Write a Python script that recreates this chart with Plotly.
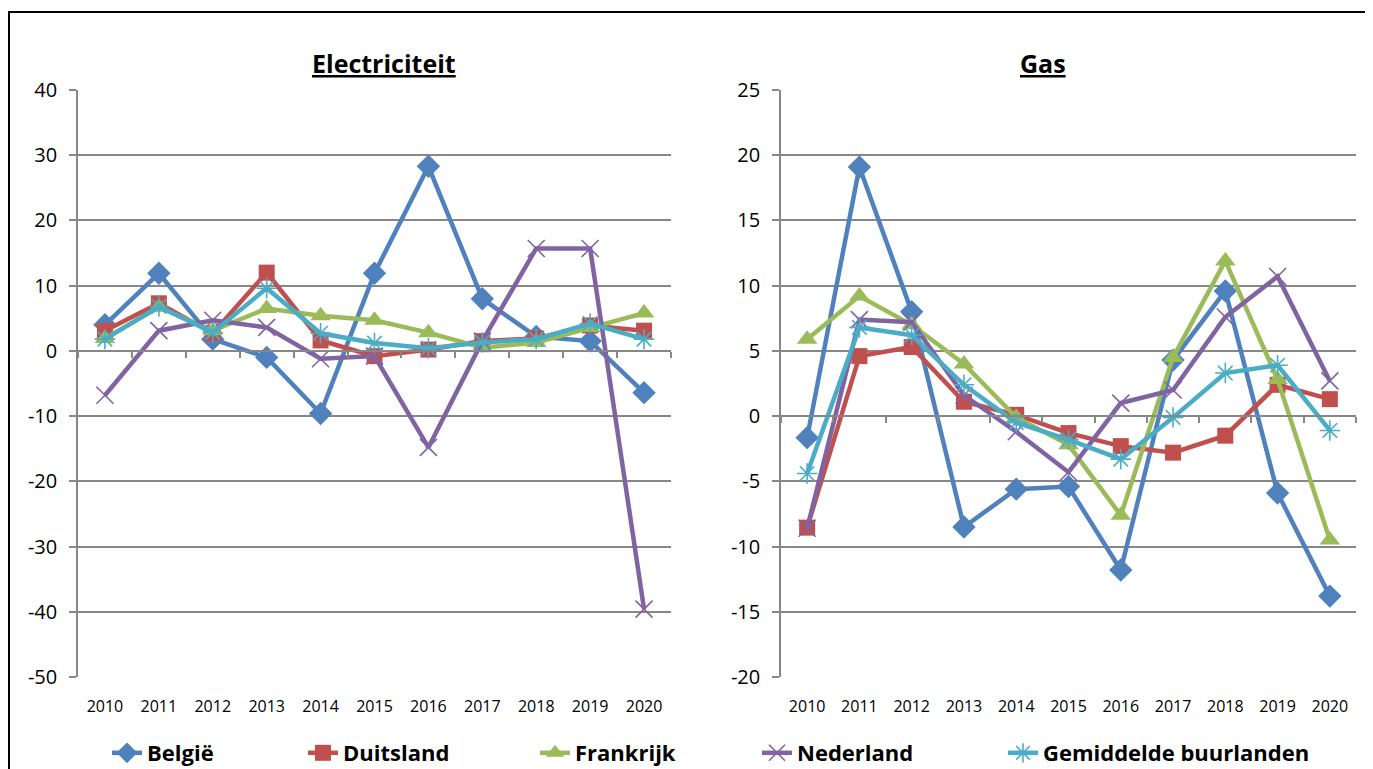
import plotly.graph_objects as go

years = [2010, 2011, 2012, 2013, 2014, 2015, 2016, 2017, 2018, 2019, 2020]
series_names = ["België", "Duitsland", "Frankrijk", "Nederland", "Gemiddelde buurlanden"]

elec_belgie = [4.0, 11.9, 1.8, -1.0, -9.6, 11.9, 28.3, 8.0, 2.2, 1.5, -6.4]
elec_duitsland = [3.1, 7.3, 2.7, 12.0, 1.6, -0.8, 0.2, 1.5, 1.9, 3.9, 3.1]
elec_frankrijk = [1.9, 6.7, 3.1, 6.5, 5.4, 4.7, 2.8, 0.5, 1.3, 3.6, 5.8]
elec_nederland = [-6.8, 3.1, 4.7, 3.6, -1.2, -0.8, -14.8, 1.5, 15.7, 15.7, -39.6]
elec_gemiddeld = [1.8, 6.8, 2.8, 9.6, 2.7, 1.2, 0.4, 1.3, 1.8, 4.2, 1.8]

gas_belgie = [-1.65, 19.1, 8.0, -8.5, -5.6, -5.4, -11.8, 4.3, 9.6, -5.9, -13.8]
gas_duitsland = [-8.55, 4.6, 5.3, 1.1, 0.1, -1.3, -2.3, -2.8, -1.5, 2.4, 1.3]
gas_frankrijk = [5.9, 9.2, 7.0, 4.0, -0.1, -2.2, -7.6, 4.5, 11.9, 2.8, -9.5]
gas_nederland = [-8.6, 7.4, 7.2, 1.6, -1.2, -4.3, 1.0, 2.0, 7.6, 10.7, 2.7]
gas_gemiddeld = [-4.4, 6.8, 6.2, 2.4, -0.5, -1.8, -3.3, -0.1, 3.3, 3.9, -1.1]

elec_ticks = [40, 30, 20, 10, 0, -10, -20, -30, -40, -50]
gas_ticks = [25, 20, 15, 10, 5, 0, -5, -10, -15, -20]

colors = ["#4F81BD", "#C0504D", "#9BBB59", "#8064A2", "#4BACC6"]
symbols = ["diamond", "square", "triangle-up", "x-thin-open", "asterisk-open"]
msizes = [18, 16, 18, 17, 17]

OFF = 8  # default body margin of the html page
W, H = 1373 - OFF, 769 - OFF
FONT = "Open Sans"
GRID = "#878787"


def px_x(p):
    return (p - OFF) / W


def px_y(p):
    return 1 - (p - OFF) / H


ydom = [px_y(677), px_y(90)]
x1dom = [px_x(78), px_x(671)]
x2dom = [px_x(781), px_x(1356)]

fig = go.Figure()

elec = [elec_belgie, elec_duitsland, elec_frankrijk, elec_nederland, elec_gemiddeld]
gas = [gas_belgie, gas_duitsland, gas_frankrijk, gas_nederland, gas_gemiddeld]

legend_ids = ["legend", "legend2", "legend3", "legend4", "legend5"]

for i, name in enumerate(series_names):
    mk = dict(symbol=symbols[i], size=msizes[i], color=colors[i],
              line=dict(color=colors[i], width=1.6 if i >= 3 else 0))
    fig.add_trace(go.Scatter(x=years, y=elec[i], name=name, mode="lines+markers",
                             line=dict(color=colors[i], width=4.5), marker=mk,
                             xaxis="x", yaxis="y", legendgroup=name,
                             legend=legend_ids[i], showlegend=True))
for i, name in enumerate(series_names):
    mk = dict(symbol=symbols[i], size=msizes[i], color=colors[i],
              line=dict(color=colors[i], width=1.6 if i >= 3 else 0))
    fig.add_trace(go.Scatter(x=years, y=gas[i], name=name, mode="lines+markers",
                             line=dict(color=colors[i], width=4.5), marker=mk,
                             xaxis="x2", yaxis="y2", legendgroup=name,
                             showlegend=False))

xr = [years[0] - 0.5, years[-1] + 0.5]
bounds = [y - 0.5 for y in years] + [years[-1] + 0.5]

xcommon = dict(range=xr, tickvals=years, ticktext=[str(y) for y in years],
               showgrid=False, zeroline=False, showline=False, ticks="",
               tickfont=dict(family=FONT, size=16, color="#000"),
               ticklabelstandoff=18)
ycommon = dict(showgrid=True, gridcolor=GRID, gridwidth=1.6, zeroline=False,
               showline=True, linecolor=GRID, linewidth=1.6, ticks="outside",
               ticklen=7, tickcolor=GRID, tickwidth=1.6,
               tickfont=dict(family=FONT, size=20, color="#000"),
               ticklabelstandoff=8)


def zero_pos(dom, rng):
    return dom[0] + (0 - rng[0]) / (rng[1] - rng[0]) * (dom[1] - dom[0])


erng = [-50, 40]
grng = [-20, 25]

fig.update_layout(
    width=W, height=H,
    margin=dict(l=0, r=0, t=0, b=0, autoexpand=False),
    paper_bgcolor="white", plot_bgcolor="white",
    xaxis=dict(domain=x1dom, anchor="y", **xcommon),
    yaxis=dict(domain=ydom, anchor="x", range=erng, tickvals=elec_ticks,
               ticktext=[str(t) for t in elec_ticks], **ycommon),
    xaxis2=dict(domain=x2dom, anchor="y2", **xcommon),
    yaxis2=dict(domain=ydom, anchor="x2", range=grng, tickvals=gas_ticks,
                ticktext=[str(t) for t in gas_ticks], **ycommon),
    xaxis3=dict(domain=x1dom, overlaying="x", anchor="free",
                position=zero_pos(ydom, erng), range=xr, tickvals=bounds,
                showticklabels=False, ticks="outside", ticklen=6, tickwidth=1.6,
                tickcolor=GRID, showline=True, linecolor=GRID, linewidth=1.6,
                showgrid=False, zeroline=False),
    xaxis4=dict(domain=x2dom, overlaying="x2", anchor="free",
                position=zero_pos(ydom, grng), range=xr, tickvals=bounds,
                showticklabels=False, ticks="outside", ticklen=6, tickwidth=1.6,
                tickcolor=GRID, showline=True, linecolor=GRID, linewidth=1.6,
                showgrid=False, zeroline=False),
    showlegend=True,
)

for ax in ["x3", "x4"]:
    fig.add_trace(go.Scatter(x=[None], y=[None], xaxis=ax, yaxis="y" if ax == "x3" else "y2",
                             showlegend=False, hoverinfo="skip"))

text_starts = [147, 343, 575, 797, 1043]
for i, lid in enumerate(legend_ids):
    fig.update_layout({lid: dict(x=px_x(text_starts[i] - 40), xanchor="left",
                                 y=px_y(753), yanchor="middle", orientation="h",
                                 xref="container", yref="container",
                                 bgcolor="rgba(0,0,0,0)", borderwidth=0,
                                 font=dict(family=FONT, size=22, color="#000", weight="bold"),
                                 itemwidth=30)})

fig.add_annotation(text="<b><u>Electriciteit</u></b>", x=px_x(384), y=px_y(63),
                   xref="paper", yref="paper", xanchor="center", yanchor="middle",
                   showarrow=False, font=dict(family=FONT, size=25, color="#000"))
fig.add_annotation(text="<b><u>Gas</u></b>", x=px_x(1043), y=px_y(63),
                   xref="paper", yref="paper", xanchor="center", yanchor="middle",
                   showarrow=False, font=dict(family=FONT, size=25, color="#000"))

fig.add_shape(type="rect", xref="paper", yref="paper",
              x0=px_x(9), x1=1.2, y0=-0.2, y1=px_y(12),
              line=dict(color="black", width=2), fillcolor="rgba(0,0,0,0)", layer="above")

fig.write_html("out.html")
